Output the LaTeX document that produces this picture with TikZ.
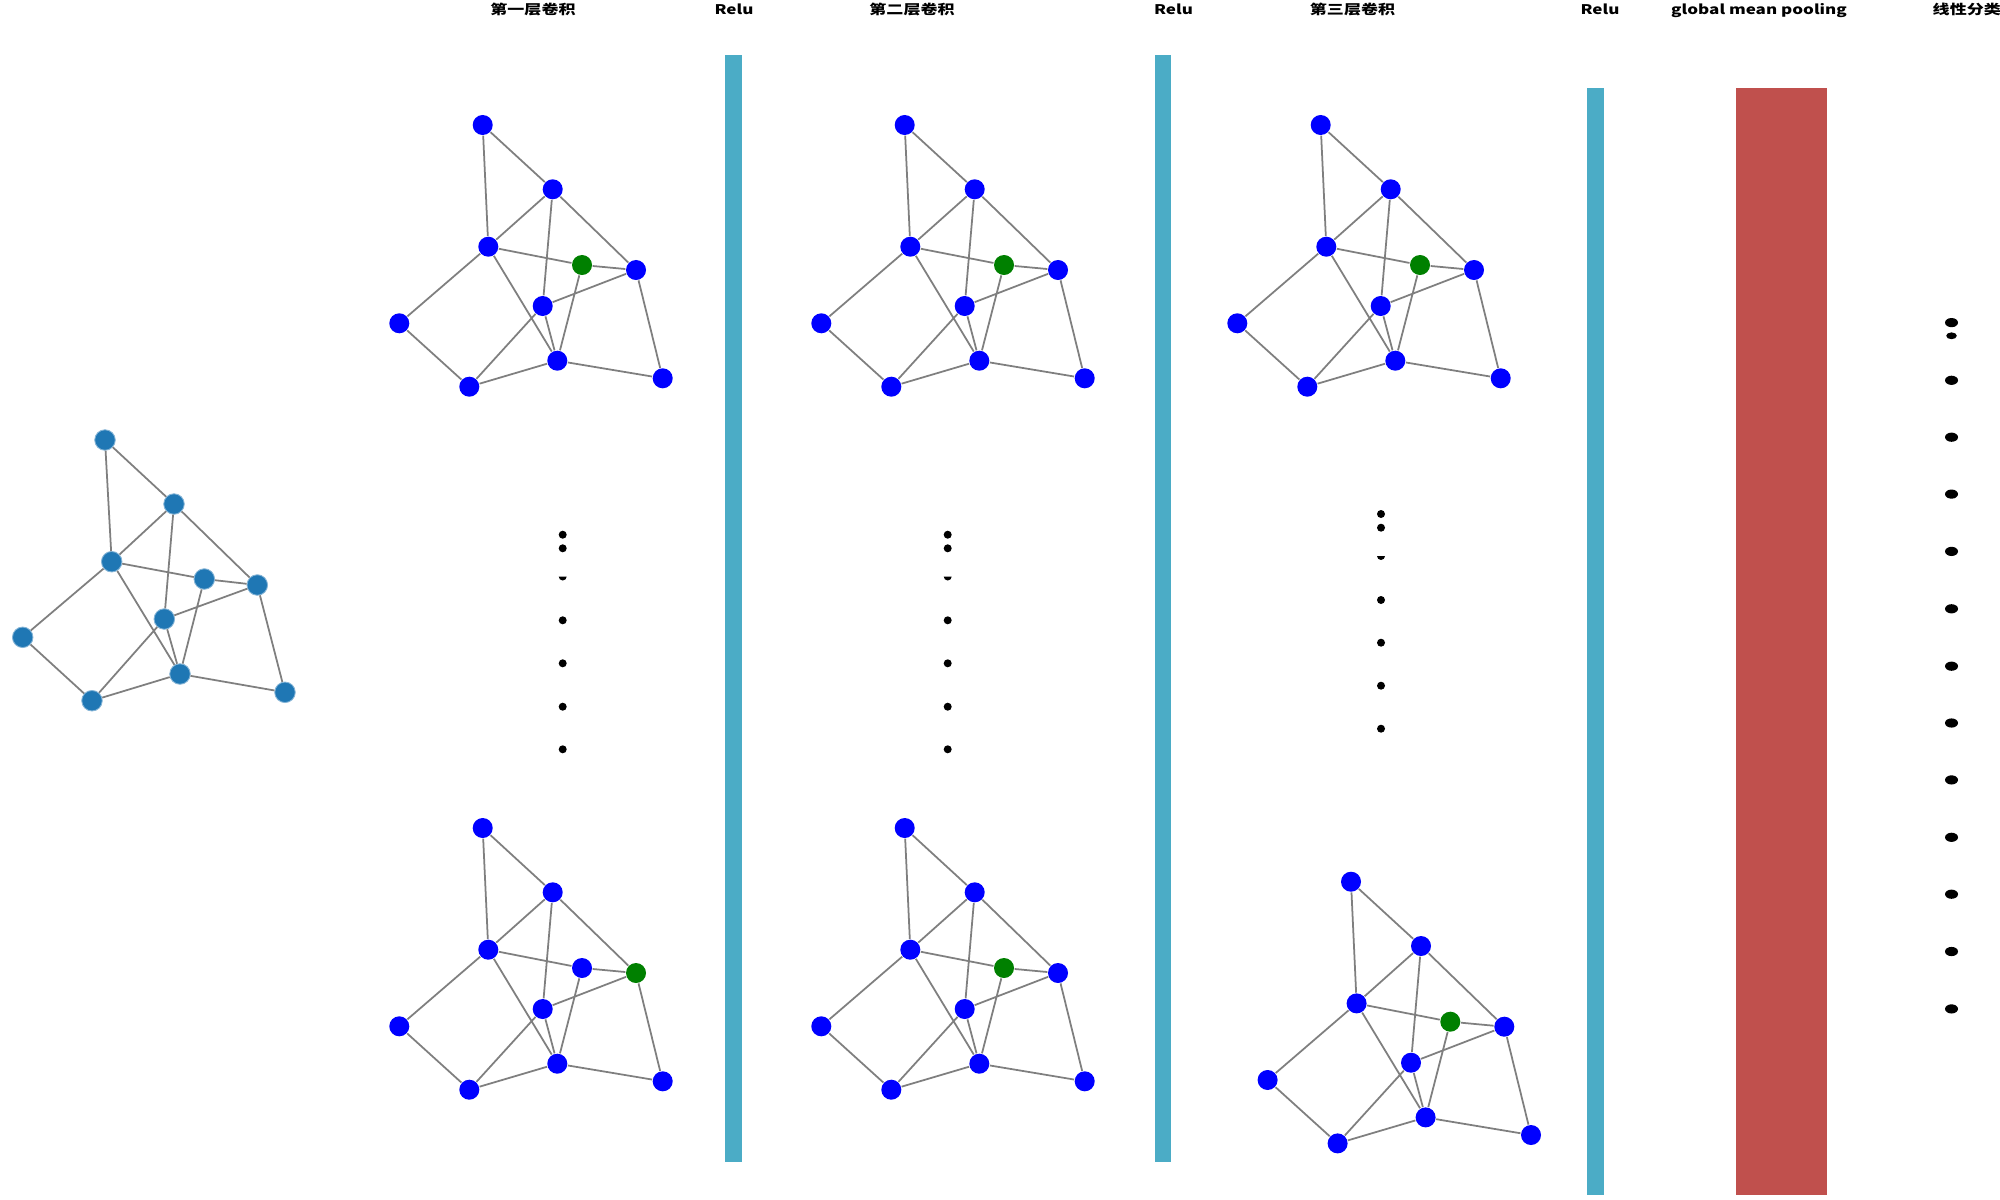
\documentclass[tikz,border=0pt]{standalone}
\usepackage{fontspec}
\newfontfamily\cjk{Noto Sans CJK SC}
\definecolor{relu}{HTML}{4BACC6}
\definecolor{pool}{HTML}{C0504D}
\definecolor{mplblue}{HTML}{1F77B4}
\definecolor{nblue}{HTML}{0000FF}
\definecolor{ngreen}{HTML}{008000}
\definecolor{edgec}{HTML}{7F7F7F}
\tikzset{
  gnode/.style={circle, fill=nblue, draw=none, minimum size=0.2cm, inner sep=0pt},
  greennode/.style={gnode, fill=ngreen},
  lnode/.style={circle, fill=mplblue, draw=mplblue!55!white, line width=0.25pt, minimum size=0.205cm, inner sep=0pt},
  gedge/.style={draw=edgec, line width=0.5pt},
  title/.style={font=\cjk\bfseries\fontsize{4.84pt}{5pt}\selectfont, inner sep=0pt, anchor=base},
  relubar/.style={fill=relu},
  poolbar/.style={fill=pool},
  bigdot/.style={fill=black}
}
\newcommand\gcgraph[5]{%
  \begin{scope}[shift={(#2,#3)}]
    \node[gnode] (#1a) at (482.7,125) {};
    \node[gnode] (#1b) at (552.7,189.3) {};
    \node[gnode] (#1c) at (488.3,246.7) {};
    \node[#4]    (#1g) at (582,265) {};
    \node[#5]    (#1d) at (636,270) {};
    \node[gnode] (#1e) at (542.7,306) {};
    \node[gnode] (#1f) at (399.3,323.3) {};
    \node[gnode] (#1h) at (557.3,360.7) {};
    \node[gnode] (#1i) at (469.3,386.7) {};
    \node[gnode] (#1j) at (662.7,378.3) {};
  \end{scope}
  \gcedges{#1}%
}
\newcommand\gcedges[1]{%
  \draw[gedge] (#1a)--(#1b) (#1a)--(#1c) (#1b)--(#1c) (#1b)--(#1e) (#1b)--(#1d)
    (#1c)--(#1g) (#1g)--(#1d) (#1c)--(#1f) (#1c)--(#1h) (#1e)--(#1d)
    (#1e)--(#1h) (#1e)--(#1i) (#1g)--(#1h) (#1f)--(#1i) (#1i)--(#1h)
    (#1h)--(#1j) (#1d)--(#1j);
}
\newcommand\dotcol[1]{%
  \fill[bigdot] (#1,534.7) circle[radius=4];
  \fill[bigdot] (#1,548.3) circle[radius=4];
  \fill[bigdot] (#1-4,576.5) arc[start angle=180, end angle=0, radius=4] -- cycle;
  \foreach \yy in {620.3,663.3,706.7,749.3} \fill[bigdot] (#1,\yy) circle[radius=4];
}
\begin{document}
\begin{tikzpicture}[x=0.01cm,y=-0.01cm]
\useasboundingbox (0,0) rectangle (2000,1200);
\fill[white] (0,0) rectangle (2000,1200);

% titles
\node[title] (t1) at (533,14.5) {\scalebox{1}[0.78]{第一层卷积}};
\node[title] (t2) at (734,14.5) {\scalebox{1}[0.78]{Relu}};
\node[title] (t3) at (912,14.5) {\scalebox{1}[0.78]{第二层卷积}};
\node[title] (t4) at (1173.5,14.5) {\scalebox{1}[0.78]{Relu}};
\node[title] (t5) at (1352.5,14.5) {\scalebox{1}[0.78]{第三层卷积}};
\node[title] (t6) at (1600,14.5) {\scalebox{1}[0.78]{Relu}};
\node[title] (t7) at (1759,14.5) {\scalebox{1}[0.78]{global mean pooling}};
\node[title, anchor=base west] (t8) at (1932,14.5) {\scalebox{1}[0.78]{线性分类}};

% input graph
\node[lnode] (la) at (105,440) {};
\node[lnode] (lb) at (174,504) {};
\node[lnode] (lc) at (111.7,561.7) {};
\node[lnode] (lg) at (204.3,579) {};
\node[lnode] (ld) at (257.3,585) {};
\node[lnode] (le) at (164.3,619) {};
\node[lnode] (lf) at (22.7,637.3) {};
\node[lnode] (lh) at (180,674) {};
\node[lnode] (li) at (92,700.7) {};
\node[lnode] (lj) at (285,692.3) {};
\gcedges{l}

% convolution graphs
\gcgraph{p}{0}{0}{greennode}{gnode}
\gcgraph{q}{0}{703}{gnode}{greennode}
\gcgraph{r}{422}{0}{greennode}{gnode}
\gcgraph{s}{422}{703}{greennode}{gnode}
\gcgraph{u}{838}{0}{greennode}{gnode}
\gcgraph{v}{868.3}{756.7}{greennode}{gnode}

% ellipsis dots
\dotcol{562.7}
\dotcol{947.7}
\fill[bigdot] (1381,514) circle[radius=4];
\fill[bigdot] (1381,527.7) circle[radius=4];
\fill[bigdot] (1377,556) arc[start angle=180, end angle=0, radius=4] -- cycle;
\foreach \yy in {600,642.7,685.7,728.7} \fill[bigdot] (1381,\yy) circle[radius=4];

% bars
\fill[relubar] (725,55) rectangle (741.7,1162.3);
\fill[relubar] (1154.5,55) rectangle (1171.2,1162.3);
\fill[relubar] (1586.7,87.7) rectangle (1604,1195);
\fill[poolbar] (1735.7,87.7) rectangle (1826.7,1195);

% output dots
\fill[bigdot] (1951.5,322.6) ellipse[x radius=6.5, y radius=4.6];
\fill[bigdot] (1951.5,335.8) ellipse[x radius=5.3, y radius=3.4];
\foreach \yy in {380.3,437.2,494.1,551.4,608.8,666.2,723,779.9,837.3,894.2,951.5,1008.9}
  \fill[bigdot] (1951.5,\yy) ellipse[x radius=6.5, y radius=4.6];
\end{tikzpicture}
\end{document}
